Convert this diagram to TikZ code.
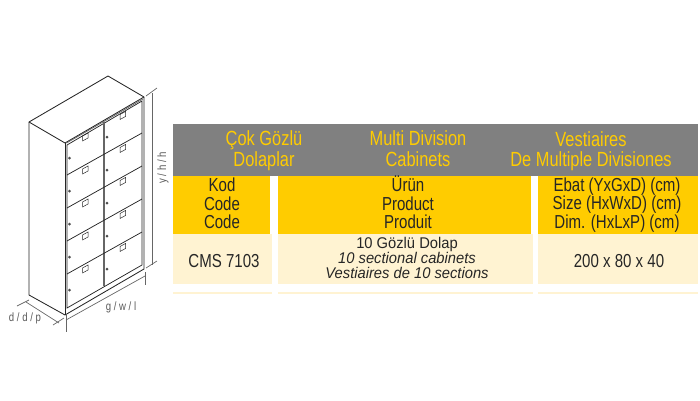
\documentclass[tikz,border=0pt]{standalone}
\usepackage{fontspec}
\setmainfont[FakeStretch=0.8]{Liberation Sans}
\newfontfamily\descfont[FakeStretch=0.95]{Liberation Sans}
\usetikzlibrary{positioning, calc}

\begin{document}
\begin{tikzpicture}[
    x=1pt, y=-1pt,
    cell/.style={rectangle, inner sep=0pt, minimum height=#1},
    headtext/.style={font=\fontsize{20.5}{20.5}\selectfont, text=headyellow, align=center, inner sep=0pt},
    rowtext/.style={font=\fontsize{18.8}{18.5}\selectfont, text=black!85, align=center, inner sep=0pt},
    desctext/.style={font=\descfont\fontsize{15.5}{15}\selectfont, text=black!85, align=center, inner sep=0pt},
    dimtext/.style={font=\fontsize{12}{12}\selectfont, text=black!65, inner sep=0pt},
    outline/.style={draw=black!85, line width=0.85pt, line join=round},
    door/.style={draw=black!85, line width=0.75pt},
    dimline/.style={draw=black!60, line width=0.7pt},
    lock/.style={fill=black!70, draw=none}
]
    \definecolor{headgray}{HTML}{808080}
    \definecolor{headyellow}{HTML}{FFCC00}
    \definecolor{rowcream}{HTML}{FFF3D2}

    \useasboundingbox (0,0) rectangle (700,400);

    % Cabinet corners
    \coordinate (backtop) at (108,76);
    \coordinate (righttop) at (144,97);
    \coordinate (fronttop) at (65,143);
    \coordinate (lefttop) at (29,122);
    \coordinate (leftbot) at (29,295);
    \coordinate (frontbot) at (65,315);
    \coordinate (rightbot) at (144,269);

    % Body
    \draw[outline] (lefttop) -- (backtop) -- (righttop) -- (fronttop) -- cycle;
    \draw[outline] (lefttop) -- (leftbot) -- (frontbot) -- (rightbot) -- (righttop);
    \draw[outline] (fronttop) -- (frontbot);

    % Door frame
    \draw[door] (67,145) -- (142,101) -- (142,265) -- (67,308) -- cycle;
    \draw[door, black!60] (66.5,143) -- (143,99);
    \draw[door, black!60, line width=1.2pt] (104,122) -- (104,286);

    % Doors
    \foreach \row in {1,2,3,4} {
        \draw[door] (67,{142+33*\row}) -- (142,{100+33*\row});
    }
    \foreach \row in {0,...,4} {
        \draw[door, line width=0.5pt] (82.5,{136+33*\row}) -- (88,{133+33*\row}) -- (88,{138+33*\row}) -- (82.5,{141+33*\row}) -- cycle;
        \fill[lock] (69.5,{158+33*\row}) circle (1.5pt);
        \draw[door, line width=0.5pt] (120,{114.5+33*\row}) -- (125.5,{111.5+33*\row}) -- (125.5,{116.5+33*\row}) -- (120,{119.5+33*\row}) -- cycle;
        \fill[lock] (107,{137+33*\row}) circle (1.5pt);
    }

    % Height
    \draw[dimline] (152,93) -- (152,265);
    \draw[dimline] (146,96) -- (157,88);
    \draw[dimline] (146,268) -- (157,261);
    \node[dimtext, rotate=90] (heightlabel) at (163,168) {y / h / h};

    % Depth
    \draw[dimline] (26,302) -- (59,323);
    \draw[dimline] (17,306) -- (29,300);
    \draw[dimline] (53,325) -- (64,318);
    \node[dimtext] (depthlabel) at (25,318) {d / d / p};

    % Width
    \draw[dimline] (66,320) -- (145,276);
    \draw[dimline] (66,315) -- (66,332);
    \draw[dimline] (145,272) -- (145,285);
    \node[dimtext] (widthlabel) at (121,307) {g / w / l};

    % Table header
    \node[cell=52pt, minimum width=525pt, fill=headgray] (head) at (435.5,150) {};
    \node[headtext] (headone) at (264,150.5) {Çok Gözlü\\Dolaplar};
    \node[headtext] (headtwo) at (418,148.5) {Multi Division\\Cabinets};
    \node[headtext] (headthree) at (591,151) {Vestiaires\\De Multiple Divisiones};

    % Yellow row
    \node[cell=58pt, minimum width=97pt, fill=headyellow] (codecell) at (221.5,205) {};
    \node[cell=58pt, minimum width=253pt, fill=headyellow] (productcell) at (404.5,205) {};
    \node[cell=58pt, minimum width=160pt, fill=headyellow] (sizecell) at (618,205) {};
    \node[rowtext] (codetext) at (222,203.5) {Kod\\Code\\Code};
    \node[rowtext] (producttext) at (408,202.5) {Ürün\\Product\\Produit};
    \node[rowtext] (sizetext) at (617,205) {Ebat (YxGxD) (cm)\\Size (HxWxD) (cm)\\Dim. (HxLxP) (cm)};

    % Cream row
    \node[cell=50pt, minimum width=99pt, fill=rowcream] (codeval) at (222.5,259) {};
    \node[cell=50pt, minimum width=255pt, fill=rowcream] (productval) at (405.5,259) {};
    \node[cell=50pt, minimum width=160pt, fill=rowcream] (sizeval) at (618,259) {};
    \node[rowtext] at (224,261) (codevaltext) {CMS 7103};
    \node[desctext] (productvaltext) at (407,258) {10 Gözlü Dolap\\\textit{10 sectional cabinets}\\\textit{Vestiaires de 10 sections}};
    \node[rowtext] (sizevaltext) at (619,261) {200 x 80 x 40};

    % Empty strip below
    \node[cell=2pt, minimum width=99pt, fill=rowcream] (stripone) at (222.5,292.5) {};
    \node[cell=2pt, minimum width=255pt, fill=rowcream] (striptwo) at (405.5,292.5) {};
    \node[cell=2pt, minimum width=160pt, fill=rowcream] (stripthree) at (618,292.5) {};
\end{tikzpicture}
\end{document}
